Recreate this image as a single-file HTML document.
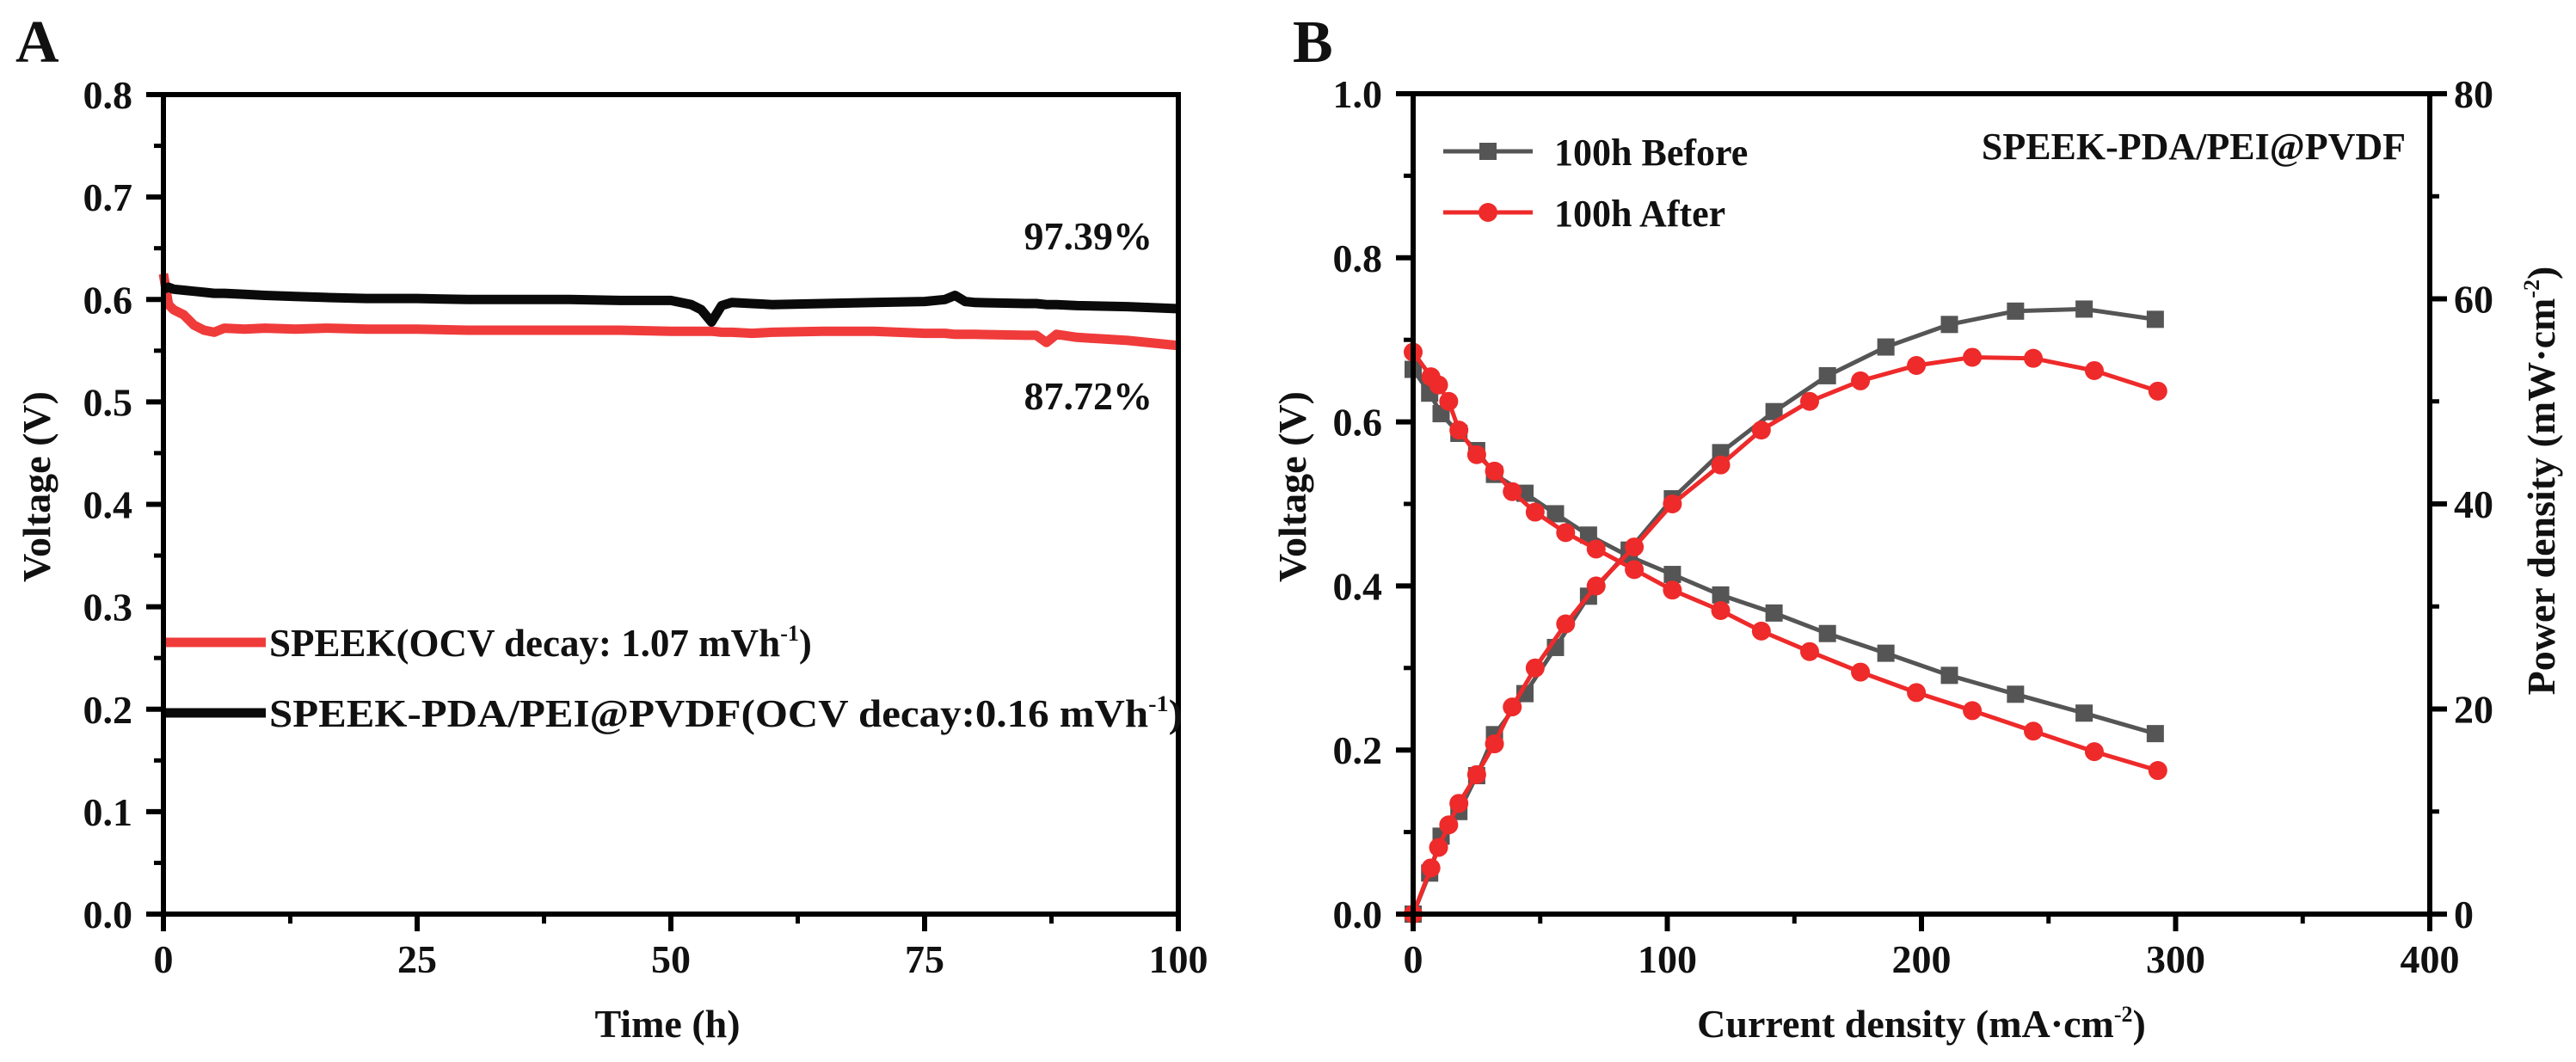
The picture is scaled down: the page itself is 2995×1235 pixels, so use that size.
<!DOCTYPE html>
<html><head><meta charset="utf-8">
<style>
html,body{margin:0;padding:0;background:#fff;}
svg{display:block;}
text{font-family:"Liberation Serif",serif;font-weight:bold;fill:#111;}
</style></head>
<body>
<svg id="fig" width="2995" height="1235" viewBox="0 0 2995 1235" xmlns="http://www.w3.org/2000/svg">
<rect width="2995" height="1235" fill="#fff"/>
<g id="A"></g>
<g id="B"></g>
</svg>
<script>
// ---- Panel A data ----
const aTime = [0,0.5,1,2,3,4,5,6,8,10,13,16,20,25,30,35,40,45,50,52,53,54,55,56,58,60,65,70,75,77,78,79,80,85,86,87,88,90,95,100];
const aBlack = [0.61,0.612,0.61,0.609,0.608,0.607,0.606,0.606,0.605,0.604,0.603,0.602,0.601,0.601,0.6,0.6,0.6,0.599,0.599,0.595,0.59,0.578,0.594,0.597,0.596,0.595,0.596,0.597,0.598,0.6,0.604,0.598,0.597,0.596,0.596,0.595,0.595,0.594,0.593,0.591];
const aRed = [0.625,0.595,0.59,0.585,0.575,0.57,0.568,0.572,0.571,0.572,0.571,0.572,0.571,0.571,0.57,0.57,0.57,0.57,0.569,0.569,0.569,0.569,0.568,0.568,0.567,0.568,0.569,0.569,0.567,0.567,0.566,0.566,0.566,0.565,0.565,0.558,0.566,0.563,0.56,0.555];
const aYTicks = ["0.0","0.1","0.2","0.3","0.4","0.5","0.6","0.7","0.8"];
const aXTicks = ["0","25","50","75","100"];

// ---- Panel B data ----
const bBeforeI = [0,6.5,11,18,25,32,44,56,69,85,102,121,142,163,186,211,237,264,292];
const bBeforeV = [0.664,0.635,0.61,0.586,0.565,0.536,0.513,0.488,0.462,0.436,0.414,0.389,0.367,0.342,0.318,0.291,0.268,0.245,0.22];
const bBeforeP = [0,4,7.6,10,13.5,17.5,21.5,26,31,35.5,40.5,45,49,52.5,55.3,57.5,58.8,59,58];
const bAfterI = [0,7,10,14,18,25,32,39,48,60,72,87,102,121,137,156,176,198,220,244,268,293];
const bAfterV = [0.685,0.655,0.645,0.625,0.59,0.56,0.54,0.515,0.49,0.465,0.445,0.42,0.395,0.37,0.345,0.32,0.295,0.27,0.248,0.223,0.198,0.175];
const bAfterP = [0,4.5,6.5,8.7,10.8,13.6,16.6,20.2,24,28.3,32,35.8,40,43.8,47.2,50,52,53.5,54.3,54.2,53,51];
const bYTicks = ["0.0","0.2","0.4","0.6","0.8","1.0"];
const bY2Ticks = ["0","20","40","60","80"];
const bXTicks = ["0","100","200","300","400"];

const NS="http://www.w3.org/2000/svg";
function mk(parent,tag,attrs,txt){const e=document.createElementNS(NS,tag);for(const k in attrs)e.setAttribute(k,attrs[k]);if(txt!==undefined)e.textContent=txt;parent.appendChild(e);return e;}

// ===== Panel A =====
const A=document.getElementById('A');
const ax0=190,ax1=1370,ay0=1063,ay1=110;
const axX=t=>ax0+(t/100)*(ax1-ax0);
const axY=v=>ay0-(v/0.8)*(ay0-ay1);
let t;
t=mk(A,'text',{x:18,y:72,'font-size':70});t.textContent='A';


// series
function polyA(vals,color,name){
  let d=aTime.map((x,i)=>(i?'L':'M')+axX(x).toFixed(1)+','+axY(vals[i]).toFixed(1)).join('');
  const p=mk(A,'path',{d:d,fill:'none',stroke:color,'stroke-width':11,'stroke-linejoin':'round'});
  
  
}
polyA(aRed,'#f03b3b','speek-series');
polyA(aBlack,'#0a0a0a','speek-pda-pei-pvdf-series');
// frame
const fa=mk(A,'rect',{x:ax0,y:ay1,width:ax1-ax0,height:ay0-ay1,fill:'none',stroke:'#000','stroke-width':6});


aYTicks.forEach((lab,i)=>{
  const v=i*0.1,y=axY(v);
  mk(A,'line',{x1:ax0-20,y1:y,x2:ax0,y2:y,stroke:'#000','stroke-width':6});
  if(i<aYTicks.length-1){const ym=axY(v+0.05);mk(A,'line',{x1:ax0-11,y1:ym,x2:ax0,y2:ym,stroke:'#000','stroke-width':5});}
  const e=mk(A,'text',{x:154,y:y+16,'font-size':46,'text-anchor':'end'},lab);
  
  
});
aXTicks.forEach((lab,i)=>{
  const v=i*25,x=axX(v);
  mk(A,'line',{x1:x,y1:ay0,x2:x,y2:ay0+20,stroke:'#000','stroke-width':6});
  if(i<aXTicks.length-1){const xm=axX(v+12.5);mk(A,'line',{x1:xm,y1:ay0,x2:xm,y2:ay0+11,stroke:'#000','stroke-width':5});}
  const e=mk(A,'text',{x:x,y:1131,'font-size':46,'text-anchor':'middle'},lab);
  
  
});
t=mk(A,'text',{x:776,y:1206,'font-size':46,'text-anchor':'middle'},'Time (h)');


t=mk(A,'text',{x:0,y:0,'font-size':46,'text-anchor':'middle',transform:'translate(58,566) rotate(-90)'},'Voltage (V)');


t=mk(A,'text',{x:1340,y:290,'font-size':46,'text-anchor':'end','font-weight':'normal'},'97.39%');


t=mk(A,'text',{x:1340,y:476,'font-size':46,'text-anchor':'end','font-weight':'normal'},'87.72%');


// legend A
let lg=mk(A,'g',{});


mk(lg,'line',{x1:193,y1:747,x2:309,y2:747,stroke:'#f03b3b','stroke-width':11});
t=mk(lg,'text',{x:313,y:763,'font-size':45});
t.innerHTML='SPEEK(OCV decay: 1.07 mVh<tspan dy="-18" font-size="26">-1</tspan><tspan dy="18">)</tspan>';
lg=mk(A,'g',{});


mk(lg,'line',{x1:193,y1:829,x2:309,y2:829,stroke:'#0a0a0a','stroke-width':11});
t=mk(lg,'text',{x:313,y:845,'font-size':45,textLength:1062,lengthAdjust:'spacingAndGlyphs'});
t.innerHTML='SPEEK-PDA/PEI@PVDF(OCV decay:0.16 mVh<tspan dy="-18" font-size="26">-1</tspan><tspan dy="18">)</tspan>';

// ===== Panel B =====
const B=document.getElementById('B');
const bx0=1643,bx1=2825,by0=1063,by1=109;
const bX=i=>bx0+(i/400)*(bx1-bx0);
const bY=v=>by0-(v/1.0)*(by0-by1);
const bP=p=>by0-(p/80)*(by0-by1);
t=mk(B,'text',{x:1503,y:72,'font-size':70},'B');


function seriesB(xs,ys,fy,color,marker,name){
  const g=mk(B,'g',{});
  
  
  const d=xs.map((x,i)=>(i?'L':'M')+bX(x).toFixed(1)+','+fy(ys[i]).toFixed(1)).join('');
  mk(g,'path',{d:d,fill:'none',stroke:color,'stroke-width':5});
  xs.forEach((x,i)=>{
    const cx=bX(x),cy=fy(ys[i]);
    let m;
    if(marker==='sq') m=mk(g,'rect',{x:cx-10,y:cy-10,width:20,height:20,fill:color});
    else m=mk(g,'circle',{cx:cx,cy:cy,r:11,fill:color});
    
    
  });
}
const gray='#555555',red='#ee2a2a';
seriesB(bBeforeI,bBeforeV,bY,gray,'sq','before-voltage-series');
seriesB(bBeforeI,bBeforeP,bP,gray,'sq','before-power-series');
seriesB(bAfterI,bAfterV,bY,red,'ci','after-voltage-series');
seriesB(bAfterI,bAfterP,bP,red,'ci','after-power-series');
const fb=mk(B,'rect',{x:bx0,y:by1,width:bx1-bx0,height:by0-by1,fill:'none',stroke:'#000','stroke-width':6});


bYTicks.forEach((lab,i)=>{
  const v=i*0.2,y=bY(v);
  mk(B,'line',{x1:bx0-20,y1:y,x2:bx0,y2:y,stroke:'#000','stroke-width':6});
  if(i<bYTicks.length-1){const ym=bY(v+0.1);mk(B,'line',{x1:bx0-11,y1:ym,x2:bx0,y2:ym,stroke:'#000','stroke-width':5});}
  const e=mk(B,'text',{x:1607,y:y+16,'font-size':46,'text-anchor':'end'},lab);
  
  
});
bY2Ticks.forEach((lab,i)=>{
  const v=i*20,y=bP(v);
  mk(B,'line',{x1:bx1,y1:y,x2:bx1+20,y2:y,stroke:'#000','stroke-width':6});
  if(i<bY2Ticks.length-1){const ym=bP(v+10);mk(B,'line',{x1:bx1,y1:ym,x2:bx1+11,y2:ym,stroke:'#000','stroke-width':5});}
  const e=mk(B,'text',{x:2853,y:y+16,'font-size':46,'text-anchor':'start'},lab);
  
  
});
bXTicks.forEach((lab,i)=>{
  const v=i*100,x=bX(v);
  mk(B,'line',{x1:x,y1:by0,x2:x,y2:by0+20,stroke:'#000','stroke-width':6});
  if(i<bXTicks.length-1){const xm=bX(v+50);mk(B,'line',{x1:xm,y1:by0,x2:xm,y2:by0+11,stroke:'#000','stroke-width':5});}
  const e=mk(B,'text',{x:x,y:1131,'font-size':46,'text-anchor':'middle'},lab);
  
  
});
t=mk(B,'text',{x:2234,y:1206,'font-size':46,'text-anchor':'middle'});
t.innerHTML='Current density (mA·cm<tspan dy="-18" font-size="26">-2</tspan><tspan dy="18">)</tspan>';


t=mk(B,'text',{x:0,y:0,'font-size':46,'text-anchor':'middle',transform:'translate(1518,566) rotate(-90)'},'Voltage (V)');


t=mk(B,'text',{x:0,y:0,'font-size':46,'text-anchor':'middle',transform:'translate(2970,559) rotate(-90)'});
t.innerHTML='Power density (mW·cm<tspan dy="-18" font-size="26">-2</tspan><tspan dy="18">)</tspan>';


t=mk(B,'text',{x:2797,y:185,'font-size':44,'text-anchor':'end'},'SPEEK-PDA/PEI@PVDF');


lg=mk(B,'g',{});


mk(lg,'line',{x1:1678,y1:176,x2:1782,y2:176,stroke:gray,'stroke-width':5});
mk(lg,'rect',{x:1720,y:166,width:20,height:20,fill:gray});
mk(lg,'text',{x:1807,y:192,'font-size':44},'100h Before');
lg=mk(B,'g',{});


mk(lg,'line',{x1:1678,y1:247,x2:1782,y2:247,stroke:red,'stroke-width':5});
mk(lg,'circle',{cx:1730,cy:247,r:11,fill:red});
mk(lg,'text',{x:1807,y:263,'font-size':44,'xml:space':'preserve'},'100h  After');
</script>
</body></html>
